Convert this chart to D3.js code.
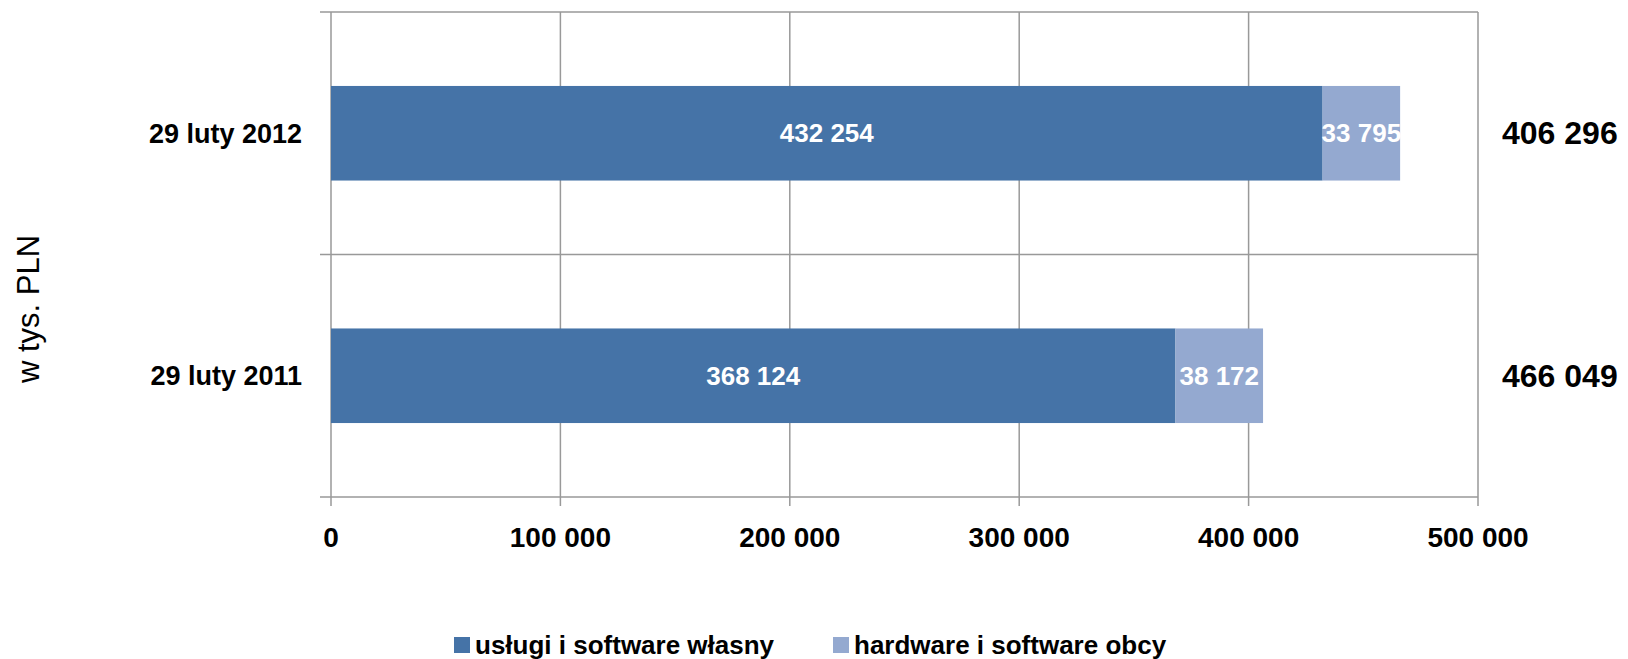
<!DOCTYPE html>
<html>
<head>
<meta charset="utf-8">
<style>
  body { margin: 0; background: #fff; }
  svg { display: block; font-family: "Liberation Sans", Arial, sans-serif; }
  .grid line { stroke: #999; stroke-width: 1.5px; fill: none; }
  .cat { font-size: 27px; font-weight: bold; fill: #000; }
  .tick-label { font-size: 28px; font-weight: bold; fill: #000; }
  .val { font-size: 26px; font-weight: bold; fill: #fff; }
  .total { font-size: 32px; font-weight: bold; fill: #000; }
  .leg { font-size: 26px; font-weight: bold; fill: #000; }
  .ytitle { font-size: 31px; fill: #000; }
</style>
<script src="https://d3js.org/d3.v7.min.js"></script>
</head>
<body>
<svg id="chart" width="1628" height="659"></svg>
<script>
// dane (w tys. PLN)
var categories = ['29 luty 2012', '29 luty 2011'];
var seriesNames = ['usługi i software własny', 'hardware i software obcy'];
var own = [432254, 368124];
var foreign = [33795, 38172];
var totals = ['406 296', '466 049'];   // as printed in the source
var ticks = [0, 100000, 200000, 300000, 400000, 500000];
var colors = ['#4573a7', '#94a9d0'];

var svg = d3.select('#chart');
// note: "top" is taken by window.top, so use other names
var plotL = 331, plotR = 1478, plotT = 12, plotB = 497;

var x = d3.scaleLinear().domain([0, 500000]).range([plotL, plotR]);
var y = d3.scaleBand().domain(categories).range([plotT, plotB])
  .paddingInner(0.61).paddingOuter(0.305);

var fmt = function(v) { return d3.format(',')(v).replace(/,/g, ' '); };

// grid lines
var grid = svg.append('g').attr('class', 'grid');
grid.selectAll('line.v').data(ticks).enter().append('line')
  .attr('class', 'v')
  .attr('x1', d => x(d)).attr('x2', d => x(d))
  .attr('y1', plotT).attr('y2', plotB + 9);

var bounds = [plotT, plotT + y.step(), plotB];
grid.selectAll('line.h').data(bounds).enter().append('line')
  .attr('class', 'h')
  .attr('x1', plotL - 11).attr('x2', plotR)
  .attr('y1', d => d).attr('y2', d => d);

// tick labels
svg.selectAll('text.tick-label').data(ticks).enter().append('text')
  .attr('class', 'tick-label')
  .attr('x', d => x(d)).attr('y', 547)
  .attr('text-anchor', 'middle')
  .text(d => fmt(d));

// bars
var rows = categories.map((c, i) => ({ cat: c, segs: [
  { s: 0, v0: 0, v1: own[i], v: own[i] },
  { s: 1, v0: own[i], v1: own[i] + foreign[i], v: foreign[i] }
], total: totals[i] }));

var g = svg.selectAll('g.row').data(rows).enter().append('g')
  .attr('class', 'row')
  .attr('transform', d => 'translate(0,' + y(d.cat) + ')');

g.selectAll('rect').data(d => d.segs).enter().append('rect')
  .attr('x', d => x(d.v0))
  .attr('width', d => x(d.v1) - x(d.v0))
  .attr('height', y.bandwidth())
  .attr('fill', d => colors[d.s]);

g.selectAll('text.val').data(d => d.segs).enter().append('text')
  .attr('class', 'val')
  .attr('x', d => (x(d.v0) + x(d.v1)) / 2)
  .attr('y', y.bandwidth() / 2)
  .attr('dy', '0.35em')
  .attr('text-anchor', 'middle')
  .text(d => fmt(d.v));

g.append('text').attr('class', 'total')
  .attr('x', plotR + 24).attr('y', y.bandwidth() / 2).attr('dy', '0.35em')
  .text(d => d.total);

g.append('text').attr('class', 'cat')
  .attr('x', 302).attr('y', y.bandwidth() / 2).attr('dy', '0.35em')
  .attr('text-anchor', 'end')
  .text(d => d.cat);

// axis title
svg.append('text').attr('class', 'ytitle')
  .attr('transform', 'translate(28,309) rotate(-90)')
  .attr('text-anchor', 'middle').attr('dy', '0.35em')
  .text('w tys. PLN');

// legend
var legX = [454, 833];
var leg = svg.selectAll('g.leg').data(seriesNames).enter().append('g')
  .attr('transform', (d, i) => 'translate(' + legX[i] + ',637)');
leg.append('rect').attr('width', 16).attr('height', 16)
  .attr('fill', (d, i) => colors[i]);
leg.append('text').attr('class', 'leg')
  .attr('x', 21).attr('y', 8).attr('dy', '0.35em')
  .text(d => d);
</script>
</body>
</html>
